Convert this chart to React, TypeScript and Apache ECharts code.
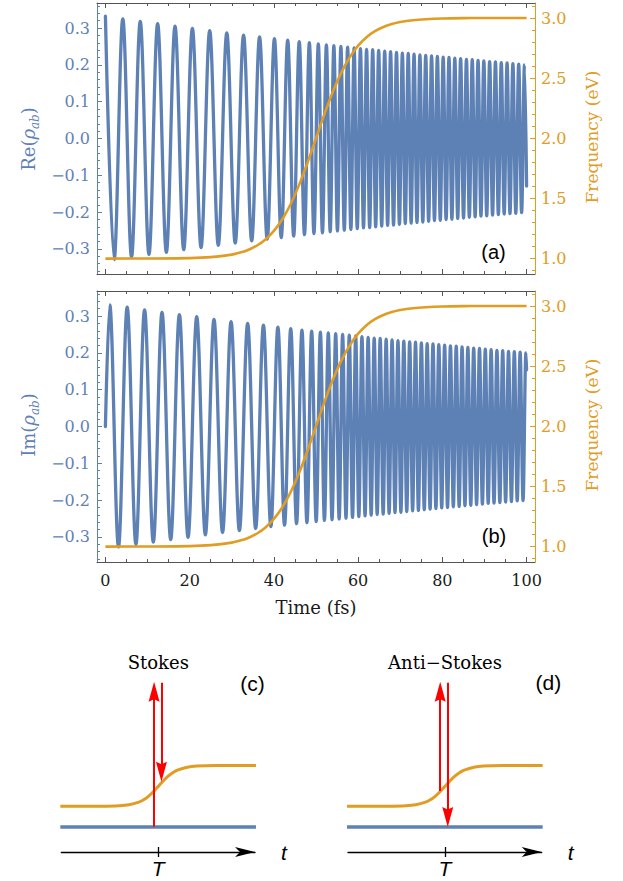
import React, { useEffect, useRef } from 'react';
import * as echarts from 'echarts';

const BLUE = '#5E81B5';
const ORANGE = '#E19C24';
const FRAME = '#555555';
const SERIF = 'DejaVu Serif';
const SANS = 'Liberation Sans';

// ---- panel (a): extrema of Re(rho_ab) (time fs, value)
const reTimes = [0, 2.07, 4.13, 6.2, 8.27, 10.34, 12.4, 14.47, 16.53, 18.59, 20.65, 22.71, 24.76, 26.8, 28.82, 30.82, 32.8, 34.73, 36.6, 38.41, 40.13, 41.75, 43.28, 44.7, 46.02, 47.26, 48.42, 49.51, 50.55, 51.53, 52.47, 53.37, 54.24, 55.09, 55.91, 56.72, 57.51, 58.28, 59.05, 59.8, 60.55, 61.28, 62.01, 62.74, 63.46, 64.17, 64.88, 65.6, 66.31, 67.01, 67.71, 68.41, 69.11, 69.81, 70.51, 71.2, 71.9, 72.59, 73.28, 73.98, 74.67, 75.36, 76.05, 76.74, 77.44, 78.13, 78.82, 79.51, 80.2, 80.89, 81.58, 82.27, 82.96, 83.65, 84.34, 85.03, 85.72, 86.41, 87.1, 87.79, 88.48, 89.17, 89.85, 90.54, 91.23, 91.92, 92.61, 93.3, 93.99, 94.68, 95.37, 96.06, 96.75, 97.44, 98.13, 98.82, 99.5, 100];
const reValues = [0.332, -0.329, 0.325, -0.322, 0.318, -0.315, 0.312, -0.309, 0.305, -0.302, 0.299, -0.296, 0.293, -0.29, 0.287, -0.284, 0.281, -0.278, 0.276, -0.273, 0.271, -0.269, 0.267, -0.265, 0.263, -0.261, 0.26, -0.258, 0.257, -0.256, 0.254, -0.253, 0.252, -0.251, 0.25, -0.249, 0.248, -0.247, 0.246, -0.245, 0.244, -0.243, 0.242, -0.242, 0.241, -0.24, 0.239, -0.238, 0.237, -0.236, 0.236, -0.235, 0.234, -0.233, 0.232, -0.231, 0.231, -0.23, 0.229, -0.228, 0.227, -0.227, 0.226, -0.225, 0.224, -0.223, 0.223, -0.222, 0.221, -0.22, 0.22, -0.219, 0.218, -0.217, 0.217, -0.216, 0.215, -0.214, 0.214, -0.213, 0.212, -0.211, 0.211, -0.21, 0.209, -0.208, 0.208, -0.207, 0.206, -0.205, 0.205, -0.204, 0.203, -0.203, 0.202, -0.201, 0.2, -0.129];

// ---- panel (b): extrema of Im(rho_ab)
const imTimes = [0, 1.03, 3.1, 5.17, 7.24, 9.3, 11.37, 13.44, 15.5, 17.56, 19.62, 21.68, 23.73, 25.78, 27.81, 29.83, 31.81, 33.77, 35.67, 37.52, 39.28, 40.95, 42.53, 44.0, 45.38, 46.66, 47.85, 48.97, 50.04, 51.04, 52.0, 52.92, 53.81, 54.67, 55.5, 56.32, 57.12, 57.9, 58.67, 59.42, 60.17, 60.91, 61.65, 62.38, 63.1, 63.82, 64.53, 65.24, 65.95, 66.66, 67.36, 68.06, 68.76, 69.46, 70.16, 70.85, 71.55, 72.24, 72.94, 73.63, 74.32, 75.02, 75.71, 76.4, 77.09, 77.78, 78.47, 79.16, 79.85, 80.54, 81.23, 81.92, 82.61, 83.3, 83.99, 84.68, 85.37, 86.06, 86.75, 87.44, 88.13, 88.82, 89.51, 90.2, 90.89, 91.58, 92.27, 92.96, 93.65, 94.33, 95.02, 95.71, 96.4, 97.09, 97.78, 98.47, 99.16, 99.85, 100];
const imValues = [0, 0.33, -0.327, 0.324, -0.32, 0.317, -0.314, 0.31, -0.307, 0.304, -0.301, 0.298, -0.294, 0.291, -0.288, 0.285, -0.283, 0.28, -0.277, 0.275, -0.272, 0.27, -0.268, 0.266, -0.264, 0.262, -0.261, 0.259, -0.258, 0.256, -0.255, 0.254, -0.253, 0.252, -0.251, 0.25, -0.249, 0.248, -0.247, 0.246, -0.245, 0.244, -0.243, 0.242, -0.241, 0.24, -0.239, 0.239, -0.238, 0.237, -0.236, 0.235, -0.234, 0.233, -0.233, 0.232, -0.231, 0.23, -0.229, 0.229, -0.228, 0.227, -0.226, 0.225, -0.225, 0.224, -0.223, 0.222, -0.221, 0.221, -0.22, 0.219, -0.218, 0.218, -0.217, 0.216, -0.215, 0.215, -0.214, 0.213, -0.212, 0.212, -0.211, 0.21, -0.209, 0.209, -0.208, 0.207, -0.207, 0.206, -0.205, 0.204, -0.204, 0.203, -0.202, 0.202, -0.201, 0.2, 0.154];

// ---- frequency (eV) vs time (fs)
const freqTimes = [0, 10, 20, 25, 30, 32, 34, 36, 38, 40, 42, 44, 46, 48, 50, 52, 54, 56, 58, 60, 62, 64, 66, 68, 70, 73, 76, 80, 85, 90, 100];
const freqValues = [1.0, 1.001, 1.004, 1.012, 1.033, 1.05, 1.074, 1.109, 1.159, 1.23, 1.327, 1.454, 1.613, 1.799, 2.0, 2.201, 2.387, 2.546, 2.673, 2.77, 2.841, 2.891, 2.926, 2.95, 2.967, 2.982, 2.99, 2.996, 2.999, 3.0, 3.0];

// ---- axis ticks
const timeMajor = [0, 20, 40, 60, 80, 100];
const timeMinor = [5, 10, 15, 25, 30, 35, 45, 50, 55, 65, 70, 75, 85, 90, 95];
const rhoMajor = [-0.3, -0.2, -0.1, 0, 0.1, 0.2, 0.3];
const rhoMinor = [-0.36, -0.34, -0.32, -0.28, -0.26, -0.24, -0.22, -0.18, -0.16, -0.14, -0.12, -0.08, -0.06, -0.04, -0.02, 0.02, 0.04, 0.06, 0.08, 0.12, 0.14, 0.16, 0.18, 0.22, 0.24, 0.26, 0.28, 0.32, 0.34, 0.36];
const freqMajor = [1.0, 1.5, 2.0, 2.5, 3.0];
const freqMinor = [0.9, 1.1, 1.2, 1.3, 1.4, 1.6, 1.7, 1.8, 1.9, 2.1, 2.2, 2.3, 2.4, 2.6, 2.7, 2.8, 2.9, 3.1];

// ---- schematic diagrams (c), (d) in arbitrary units
const levelX = [-0.05, 10.05];
const lowerLevel = 1.25;
const sigX = [-0.05, 1, 2, 3, 3.5, 4, 4.25, 4.5, 4.75, 5, 5.25, 5.5, 5.75, 6, 6.5, 7, 8, 10.05];
const sigY = [2.285, 2.285, 2.288, 2.312, 2.361, 2.49, 2.611, 2.784, 3.01, 3.272, 3.54, 3.776, 3.962, 4.095, 4.239, 4.295, 4.321, 4.325];
const transitionT = 5;
// arrows: [x, start y, tip y]
const stokesArrows = [[4.79, 1.265, 8.515], [5.17, 8.465, 3.515]];
const antiStokesArrows = [[4.76, 3.05, 8.515], [5.15, 8.465, 1.25]];

const ARROW_PATH = 'path://M5,0 L10,20 L5,17.5 L0,20 Z';
const HEAD_HALF = 0.5; // half of the 20px head, in diagram y units (20 px per unit)

const fmtSigned = (v: number) => (v < 0 ? '\u2212' : '') + Math.abs(v).toFixed(1);

function xAx(gridIndex: number, position: string, ticks: number[], len: number, line: boolean, labels?: number[]) {
  return {
    type: 'value', gridIndex, position, min: -2, max: 102,
    axisLine: { show: line, onZero: false, lineStyle: { color: FRAME, width: 1 } },
    axisTick: { show: true, inside: true, length: len, customValues: ticks, lineStyle: { color: FRAME, width: 1 } },
    axisLabel: labels
      ? { show: true, customValues: labels, color: '#1a1a1a', fontFamily: SERIF, fontSize: 16, margin: 10, formatter: (v: number) => String(v) }
      : { show: false },
    splitLine: { show: false },
  };
}

function yAx(gridIndex: number, position: string, min: number, max: number, color: string, ticks: number[], len: number, line: boolean, labels?: number[], fmt?: (v: number) => string) {
  return {
    type: 'value', gridIndex, position, min, max,
    axisLine: { show: line, onZero: false, lineStyle: { color, width: 1 } },
    axisTick: { show: true, inside: true, length: len, customValues: ticks, lineStyle: { color, width: 1 } },
    axisLabel: labels
      ? { show: true, customValues: labels, color, fontFamily: SERIF, fontSize: 16, margin: position === 'left' ? 7 : 6, formatter: fmt }
      : { show: false },
    splitLine: { show: false },
  };
}

function diagX(gridIndex: number, main: boolean) {
  return {
    type: 'value', gridIndex, position: 'bottom', min: 0, max: 10,
    axisLine: { show: main, onZero: false, symbol: ['none', 'arrow'], symbolSize: [7.5, 20], lineStyle: { color: '#000', width: 1.3 } },
    axisTick: { show: true, inside: main, length: 5, customValues: [transitionT], lineStyle: { color: '#000', width: 1.3 } },
    axisLabel: main
      ? { show: true, customValues: [transitionT], formatter: () => 'T', fontFamily: SANS, fontStyle: 'italic', fontSize: 21, color: '#000', margin: 6 }
      : { show: false },
    name: main ? 't' : '',
    nameLocation: 'end', nameGap: 26,
    nameTextStyle: { fontFamily: SANS, fontStyle: 'italic', fontSize: 21, color: '#000' },
    splitLine: { show: false },
  };
}

function diagramSeries(xIndex: number, yIndex: number, arrows: number[][]) {
  return [
    {
      type: 'line', xAxisIndex: xIndex, yAxisIndex: yIndex,
      data: levelX.map((x) => [x, lowerLevel]), symbol: 'none', silent: true,
      lineStyle: { color: BLUE, width: 3.3, cap: 'butt' },
      markLine: {
        silent: true, symbol: ['none', 'none'], label: { show: false }, emphasis: { disabled: true },
        lineStyle: { type: 'solid', color: '#FF0000', width: 2 },
        data: arrows.map(([x, y0, y1]) => [
          { coord: [x, y0] },
          { coord: [x, y1 > y0 ? y1 - HEAD_HALF : y1 + HEAD_HALF] },
        ]),
      },
      z: 3,
    },
    {
      type: 'line', xAxisIndex: xIndex, yAxisIndex: yIndex,
      data: sigX.map((x, i) => [x, sigY[i]]), symbol: 'none', smooth: 0.3, silent: true,
      lineStyle: { color: ORANGE, width: 3 },
      z: 2,
    },
    {
      type: 'scatter', xAxisIndex: xIndex, yAxisIndex: yIndex, silent: true,
      symbol: ARROW_PATH, symbolSize: [11, 20], symbolKeepAspect: false,
      itemStyle: { color: '#FF0000', opacity: 1 },
      data: arrows.map(([x, y0, y1]) => ({
        value: [x, y1],
        symbolRotate: y1 > y0 ? 0 : 180,
        symbolOffset: y1 > y0 ? [0, 10] : [0, -10],
      })),
      z: 6,
    },
  ];
}

function vText(x: number, y: number, text: string, color: string, rich?: any, fontSize = 17) {
  return {
    type: 'text', x, y, rotation: Math.PI / 2, silent: true,
    style: {
      text, rich, fill: color, fontFamily: SERIF, fontSize,
      align: 'center', verticalAlign: 'middle',
    },
  };
}

function rhoRich(color: string) {
  return {
    a: { fill: color, fontFamily: SERIF, fontSize: 18, lineHeight: 26 },
    b: { fill: color, fontFamily: SERIF, fontSize: 18, fontStyle: 'italic', lineHeight: 26 },
    c: { fill: color, fontFamily: SERIF, fontSize: 12, fontStyle: 'italic', lineHeight: 14, verticalAlign: 'bottom' },
  };
}

function plainText(x: number, y: number, text: string, fontFamily: string, fontSize: number, color = '#000') {
  return {
    type: 'text', x, y, silent: true,
    style: { text, fill: color, fontFamily, fontSize, align: 'center', verticalAlign: 'middle' },
  };
}

export default function App() {
  const ref = useRef<HTMLDivElement>(null);
  useEffect(() => {
    const chart = echarts.init(ref.current!, null, { renderer: 'svg' });
    const option: any = {
      animation: false,
      grid: [
        { left: 97, top: 3, width: 438, height: 271, outerBoundsMode: 'none', containLabel: false },
        { left: 97, top: 291, width: 438, height: 271, outerBoundsMode: 'none', containLabel: false },
        { left: 61.3, top: 652, width: 193.7, height: 200, outerBoundsMode: 'none', containLabel: false },
        { left: 348, top: 652, width: 193.7, height: 200, outerBoundsMode: 'none', containLabel: false },
      ],
      xAxis: [
        xAx(0, 'bottom', timeMajor, 5, true),
        xAx(0, 'bottom', timeMinor, 3, false),
        xAx(0, 'top', timeMajor, 5, true),
        xAx(0, 'top', timeMinor, 3, false),
        xAx(1, 'bottom', timeMajor, 5, true, timeMajor),
        xAx(1, 'bottom', timeMinor, 3, false),
        xAx(1, 'top', timeMajor, 5, true),
        xAx(1, 'top', timeMinor, 3, false),
        diagX(2, true),
        diagX(2, false),
        diagX(3, true),
        diagX(3, false),
      ],
      yAxis: [
        yAx(0, 'left', -0.368, 0.368, BLUE, rhoMajor, 5, true, rhoMajor, fmtSigned),
        yAx(0, 'left', -0.368, 0.368, BLUE, rhoMinor, 3, false),
        yAx(0, 'right', 0.872, 3.125, ORANGE, freqMajor, 5, true, freqMajor, (v: number) => v.toFixed(1)),
        yAx(0, 'right', 0.872, 3.125, ORANGE, freqMinor, 3, false),
        yAx(1, 'left', -0.368, 0.368, BLUE, rhoMajor, 5, true, rhoMajor, fmtSigned),
        yAx(1, 'left', -0.368, 0.368, BLUE, rhoMinor, 3, false),
        yAx(1, 'right', 0.872, 3.125, ORANGE, freqMajor, 5, true, freqMajor, (v: number) => v.toFixed(1)),
        yAx(1, 'right', 0.872, 3.125, ORANGE, freqMinor, 3, false),
        { type: 'value', gridIndex: 2, min: 0, max: 10, show: false },
        { type: 'value', gridIndex: 3, min: 0, max: 10, show: false },
      ],
      series: [
        {
          type: 'line', xAxisIndex: 0, yAxisIndex: 0, symbol: 'none', smooth: 0.36, silent: true,
          data: reTimes.map((t, i) => [t, reValues[i]]),
          lineStyle: { color: BLUE, width: 3.3, cap: 'round', join: 'round' }, z: 2,
        },
        {
          type: 'line', xAxisIndex: 0, yAxisIndex: 2, symbol: 'none', smooth: 0.3, silent: true,
          data: freqTimes.map((t, i) => [t, freqValues[i]]),
          lineStyle: { color: ORANGE, width: 2.6 }, z: 3,
        },
        {
          type: 'line', xAxisIndex: 4, yAxisIndex: 4, symbol: 'none', smooth: 0.36, silent: true,
          data: imTimes.map((t, i) => [t, imValues[i]]),
          lineStyle: { color: BLUE, width: 3.3, cap: 'round', join: 'round' }, z: 2,
        },
        {
          type: 'line', xAxisIndex: 4, yAxisIndex: 6, symbol: 'none', smooth: 0.3, silent: true,
          data: freqTimes.map((t, i) => [t, freqValues[i]]),
          lineStyle: { color: ORANGE, width: 2.6 }, z: 3,
        },
        ...diagramSeries(8, 8, stokesArrows),
        ...diagramSeries(10, 9, antiStokesArrows),
      ],
      graphic: [
        vText(28, 139, '{a|Re(}{b|\u03C1}{c|ab}{a|)}', BLUE, rhoRich(BLUE)),
        vText(28, 425, '{a|Im(}{b|\u03C1}{c|ab}{a|)}', BLUE, rhoRich(BLUE)),
        vText(592, 137, 'Frequency (eV)', ORANGE),
        vText(592, 425, 'Frequency (eV)', ORANGE),
        plainText(493.5, 251.5, '(a)', SANS, 20),
        plainText(494, 536, '(b)', SANS, 20),
        plainText(316, 607, 'Time (fs)', SERIF, 18, '#1a1a1a'),
        plainText(158.3, 662, 'Stokes', SERIF, 18),
        plainText(445, 662, 'Anti\u2212Stokes', SERIF, 18),
        plainText(252.5, 683.5, '(c)', SANS, 21),
        plainText(548.3, 682, '(d)', SANS, 21),
      ],
    };
    chart.setOption(option);
    return () => chart.dispose();
  }, []);
  return <div ref={ref} style={{ position: 'absolute', left: 0, top: 0, width: 623, height: 881 }} />;
}
